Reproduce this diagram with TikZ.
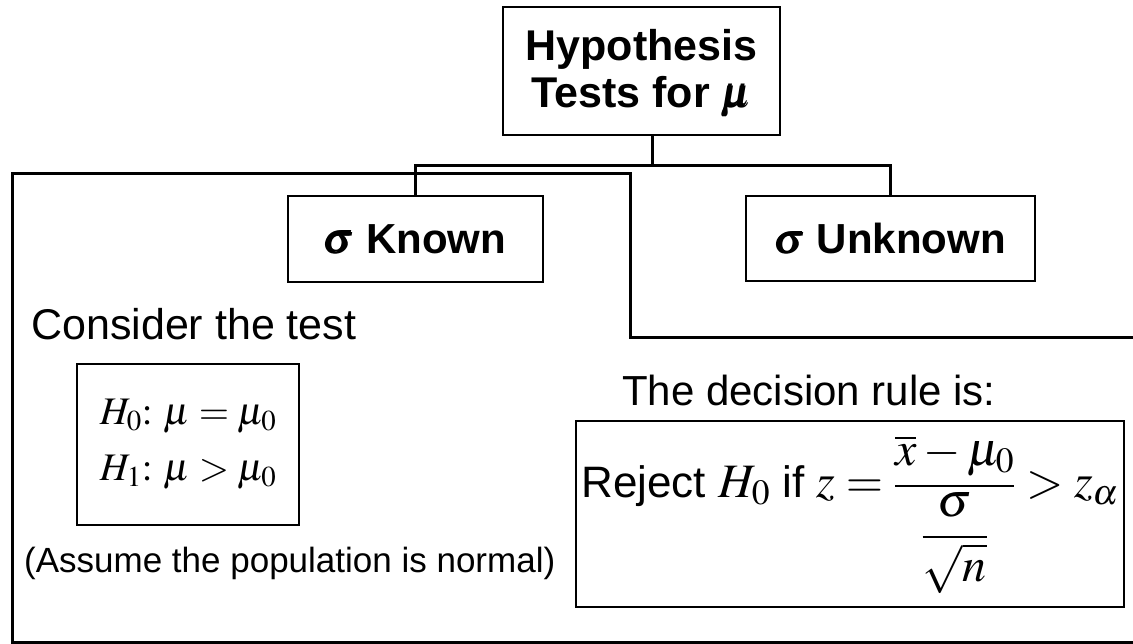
\documentclass[tikz,border=0pt]{standalone}
\usepackage{amsmath}
\usepackage{mathptmx}
\usepackage[no-math]{fontspec}
\setmainfont{Liberation Sans}
\usetikzlibrary{positioning}
\usetikzlibrary{calc}
\tikzstyle{headbox}=[rectangle,draw,line width=2.5pt,align=center,font=\bfseries\fontsize{43}{47}\selectfont]
\tikzstyle{casebox}=[rectangle,draw,line width=2.5pt,font=\bfseries\fontsize{42}{47}\selectfont]
\tikzstyle{mathbox}=[rectangle,draw,line width=1.6pt]
\tikzstyle{plaintext}=[inner sep=0pt]
\tikzstyle{link}=[draw,line width=3pt]
\newcommand{\bigmath}[1]{{\fontsize{48}{54}\selectfont$#1$}}

\begin{document}
\begin{tikzpicture}[x=1pt,y=-1pt]
    \useasboundingbox (0,0) rectangle (1133,644);
    % First we draw the boxes of the tree
    \node[headbox, minimum width=277pt, minimum height=128pt, text depth=6pt] (top) at (641.5,71) {Hypothesis\\Tests for $\pmb{\mu}$};
    \node[casebox, minimum width=255pt, minimum height=86pt] (known) at (415.5,239) {$\pmb{\sigma}$ Known};
    \node[casebox, minimum width=289pt, minimum height=85pt] (unknown) at (890.5,238.5) {$\pmb{\sigma}$ Unknown};

    % Connect them
    \coordinate (bar) at ($(top.south)+(11,29)$);
    \path[link] ([xshift=11pt]top.south) -- (bar);
    \path[link] (known.north) |- (bar) -| (unknown.north);

    % the frame round the sigma known case
    \draw[line width=3pt] (1133,338) -- (630,338) -- (630,174) -- (12,174) -- (12,642) -- (1133,642);

    % left part
    \node[plaintext, anchor=base west, font=\fontsize{43}{47}\selectfont] (consider) at (31,340) {Consider the test};
    \node[mathbox, minimum width=222pt, minimum height=161pt, align=left, font=\fontsize{39}{56}\selectfont] (hyp) at (188,444.5) {$H_0{:}\ \mu=\mu_0$\\$H_1{:}\ \mu>\mu_0$};
    \node[plaintext, anchor=base west, font=\fontsize{35}{40}\selectfont] (assume) at (24,572) {(Assume the population is normal)};

    % right part
    \node[plaintext, anchor=base west, font=\fontsize{42}{47}\selectfont] (ruletext) at (622,405) {The decision rule is:};
    \node[mathbox, minimum width=548pt, minimum height=186pt, font=\fontsize{44}{50}\selectfont] (rule) at (850,514) {Reject \bigmath{H_0} if \bigmath{z=\dfrac{\overline{x}-\mu_0}{\dfrac{\sigma}{\sqrt{n}}}>z_\alpha}};
\end{tikzpicture}
\end{document}
